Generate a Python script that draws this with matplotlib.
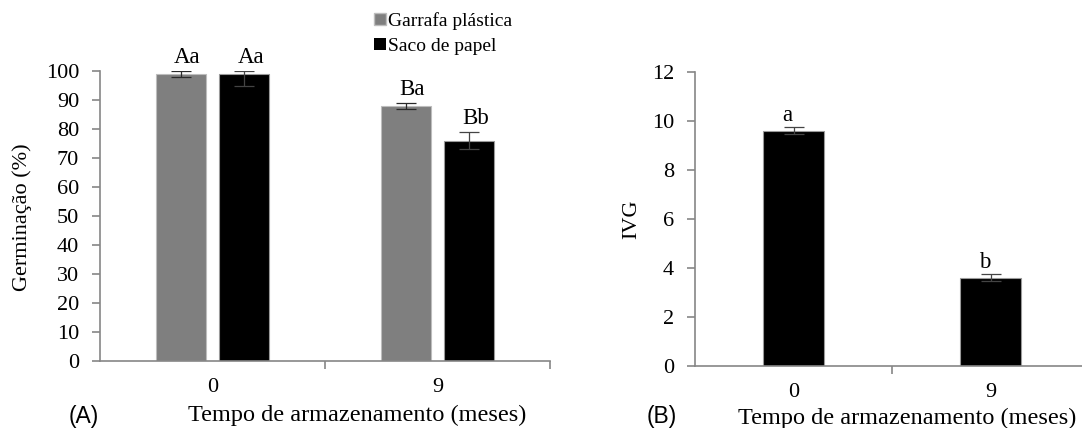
import numpy as np
import matplotlib
matplotlib.use("Agg")
import matplotlib.pyplot as plt
from matplotlib.patches import Patch

# data
meses = ["0", "9"]
garrafa = [99, 88]
garrafa_err = [1, 1]
saco = [99, 76]
saco_err = [4, 3]
letras_garrafa = ["Aa", "Ba"]
letras_saco = ["Aa", "Bb"]

ivg = [9.6, 3.6]
ivg_err = [0.15, 0.15]
letras_ivg = ["a", "b"]

plt.rcParams["font.family"] = "serif"
plt.rcParams["font.serif"] = ["Liberation Serif", "DejaVu Serif"]
SANS = ["Liberation Sans", "DejaVu Sans"]
W, H = 1082, 428
fig = plt.figure(figsize=(W / 100, H / 100), dpi=100)

GREY = "#7f7f7f"
AXC = "#868686"
YMAX_A = 100


def style_axes(ax):
    for s in ["top", "right"]:
        ax.spines[s].set_visible(False)
    for s in ["left", "bottom"]:
        ax.spines[s].set_color(AXC)
        ax.spines[s].set_linewidth(1.2)
    ax.tick_params(axis="y", colors=AXC, labelcolor="black", labelsize=16,
                   length=6, width=1.2, direction="out", pad=9)
    ax.tick_params(axis="x", which="major", length=0, labelsize=16, pad=12)
    ax.tick_params(axis="x", which="minor", colors=AXC, length=6, width=1.2,
                   direction="out")


def clipped(vals, errs, top):
    # error bars are cut at the top of the axis, as in the original
    up = [min(e, top - v) for v, e in zip(vals, errs)]
    return [errs, up]


# ---- panel A
axA = fig.add_axes([100 / W, 1 - 361 / H, (550 - 100) / W, (361 - 71) / H])
x = np.arange(len(meses))
w = 0.222
off = 0.141
axA.bar(x - off, garrafa, w, color=GREY, edgecolor="#bdbdbd", linewidth=0.8)
axA.bar(x + off, saco, w, color="black", edgecolor="#9a9a9a", linewidth=0.8)
axA.errorbar(x - off, garrafa, yerr=clipped(garrafa, garrafa_err, YMAX_A), fmt="none",
             ecolor="#2a2a2a", elinewidth=0.9, capsize=7.5, capthick=0.9)
axA.errorbar(x + off, saco, yerr=clipped(saco, saco_err, YMAX_A), fmt="none",
             ecolor="#444444", elinewidth=0.9, capsize=7.5, capthick=0.9)
for i in range(len(meses)):
    tg = min(garrafa[i] + garrafa_err[i], YMAX_A)
    ts = min(saco[i] + saco_err[i], YMAX_A)
    axA.text(x[i] - off + 0.03, tg + 2.8, letras_garrafa[i],
             ha="center", va="baseline", fontsize=16.5)
    axA.text(x[i] + off + 0.03, ts + 2.8, letras_saco[i],
             ha="center", va="baseline", fontsize=16.5)
axA.set_ylim(0, YMAX_A)
axA.set_yticks(np.arange(0, 101, 10))
axA.set_xlim(-0.5, 1.5)
axA.set_xticks(x)
axA.set_xticklabels(meses)
axA.set_xticks([0.5, 1.5], minor=True)
style_axes(axA)
fig.text(22 / W, 1 - 217 / H, "Germinação (%)", rotation=90, ha="center",
         va="center", fontsize=16)
fig.text(357 / W, 1 - 415 / H, "Tempo de armazenamento (meses)", ha="center",
         va="center", fontsize=17.5)
fig.text(84 / W, 1 - 417 / H, "(A)", ha="center", va="center", fontsize=16.5,
         family=SANS)

fig.legend(handles=[Patch(facecolor=GREY, edgecolor="#bdbdbd", label="Garrafa plástica"),
                    Patch(facecolor="black", label="Saco de papel")],
           loc="upper left", bbox_to_anchor=(374 / W, 1 - 12 / H), frameon=False,
           prop={"family": "serif", "size": 14}, handlelength=0.6,
           handleheight=0.6, handletextpad=0.1, labelspacing=0.4,
           borderpad=0, borderaxespad=0)

# ---- panel B
axB = fig.add_axes([695 / W, 1 - 366 / H, (W - 695) / W, (366 - 72) / H])
xb = np.arange(len(meses))
axB.bar(xb, ivg, 0.31, color="black", edgecolor="#9a9a9a", linewidth=0.8)
axB.errorbar(xb, ivg, yerr=ivg_err, fmt="none", ecolor="#444444",
             elinewidth=0.9, capsize=7.5, capthick=0.9)
for i in range(len(meses)):
    axB.text(xb[i] - 0.03, ivg[i] + ivg_err[i] + 0.25, letras_ivg[i],
             ha="center", va="baseline", fontsize=16.5)
axB.set_ylim(0, 12)
axB.set_yticks(np.arange(0, 13, 2))
axB.set_xlim(-0.5, (W - 793.5) / 197)
axB.set_xticks(xb)
axB.set_xticklabels(meses)
axB.set_xticks([0.5], minor=True)
style_axes(axB)
fig.text(632 / W, 1 - 219 / H, "IVG", rotation=90, ha="center", va="center",
         fontsize=16)
fig.text(907 / W, 1 - 418 / H, "Tempo de armazenamento (meses)", ha="center",
         va="center", fontsize=17.5)
fig.text(662 / W, 1 - 417 / H, "(B)", ha="center", va="center", fontsize=16.5,
         family=SANS)

fig.savefig("out.png", dpi=100)
